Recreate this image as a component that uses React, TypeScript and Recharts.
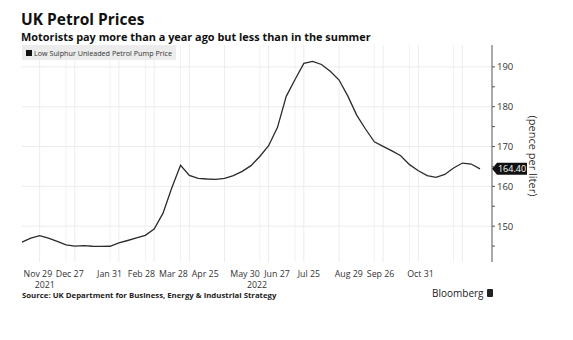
import { Line, LineChart, ReferenceLine, XAxis, YAxis } from "recharts";

const weeks = [
  "2021-11-15", "2021-11-22", "2021-11-29", "2021-12-06", "2021-12-13", "2021-12-20", "2021-12-27",
  "2022-01-03", "2022-01-10", "2022-01-17", "2022-01-24", "2022-01-31",
  "2022-02-07", "2022-02-14", "2022-02-21", "2022-02-28",
  "2022-03-07", "2022-03-14", "2022-03-21", "2022-03-28",
  "2022-04-04", "2022-04-11", "2022-04-18", "2022-04-25",
  "2022-05-02", "2022-05-09", "2022-05-16", "2022-05-23", "2022-05-30",
  "2022-06-06", "2022-06-13", "2022-06-20", "2022-06-27",
  "2022-07-04", "2022-07-11", "2022-07-18", "2022-07-25",
  "2022-08-01", "2022-08-08", "2022-08-15", "2022-08-22", "2022-08-29",
  "2022-09-05", "2022-09-12", "2022-09-19", "2022-09-26",
  "2022-10-03", "2022-10-10", "2022-10-17", "2022-10-24", "2022-10-31",
  "2022-11-07", "2022-11-14",
];

const petrolPrice = [
  146.0, 147.0, 147.6, 147.0, 146.2, 145.3, 145.0,
  145.1, 144.95, 144.9, 144.95, 145.8,
  146.4, 147.05, 147.7, 149.3,
  153.2, 159.6, 165.3, 162.75,
  162.0, 161.85, 161.75, 162.0,
  162.7, 163.75, 165.2, 167.5, 170.2,
  174.75, 182.6, 186.85, 190.9,
  191.4, 190.6, 188.9, 186.7,
  182.65, 177.9, 174.4, 171.2, 170.05,
  168.9, 167.7, 165.45, 163.9,
  162.7, 162.25, 163.0, 164.6, 165.85,
  165.6, 164.4,
];

const tickWeeks = [
  "2021-11-29", "2021-12-27", "2022-01-31", "2022-02-28", "2022-03-28", "2022-04-25",
  "2022-05-30", "2022-06-27", "2022-07-25", "2022-08-29", "2022-09-26", "2022-10-31",
];
const tickLabels = [
  "Nov 29", "Dec 27", "Jan 31", "Feb 28", "Mar 28", "Apr 25",
  "May 30", "Jun 27", "Jul 25", "Aug 29", "Sep 26", "Oct 31",
];
const yearLabels: Record<string, string> = { "Nov 29": "2021", "May 30": "2022" };
const minorGridWeeks = [
  "2021-11-15", "2021-12-20", "2022-01-24", "2022-02-21", "2022-03-21",
  "2022-05-23", "2022-06-20", "2022-08-22", "2022-09-19", "2022-10-24",
];
const yTicks = [145, 150, 155, 160, 165, 170, 175, 180, 185, 190];
const yGrid = [150, 160, 170, 180, 190];

const seriesName = "Low Sulphur Unleaded Petrol Pump Price";
const data = weeks.map((week, i) => ({ week, price: petrolPrice[i] }));
const lastPrice = petrolPrice[petrolPrice.length - 1];

const FONT = "'Open Sans', 'Liberation Sans', sans-serif";
const GRID = "#ececec";

function DateTick({ x, y, payload }: any) {
  const label = tickLabels[tickWeeks.indexOf(payload.value)];
  // labels sit slightly left of their gridlines in the original
  const lx = x * 0.905 + 2;
  const year = yearLabels[label];
  return (
    <g>
      <text x={lx} y={y + 12.5} textAnchor="middle" fontSize={8.8} fill="#333" fontFamily={FONT}>
        {label}
      </text>
      {year && (
        <text x={lx + (label === "Nov 29" ? 7 : 12)} y={y + 24} textAnchor="middle" fontSize={8.8} fill="#333" fontFamily={FONT}>
          {year}
        </text>
      )}
    </g>
  );
}

function PriceTick({ x, y, payload }: any) {
  const major = payload.value % 10 === 0;
  return (
    <g>
      <line x1={x} x2={x + 3} y1={y} y2={y} stroke="#555" strokeWidth={1} />
      {major && (
        <text x={x + 5} y={y + 3.5} fontSize={9.5} fill="#333" fontFamily={FONT}>
          {payload.value}
        </text>
      )}
    </g>
  );
}

function PriceTag({ viewBox }: any) {
  const ax = viewBox.x + viewBox.width;
  const cy = viewBox.y;
  return (
    <g>
      <polygon
        points={`${ax},${cy} ${ax + 5},${cy - 6} ${ax + 35},${cy - 6} ${ax + 35},${cy + 6} ${ax + 5},${cy + 6}`}
        fill="#111"
      />
      <text x={ax + 20} y={cy + 3.3} textAnchor="middle" fontSize={9} fill="#fff" fontFamily={FONT}>
        {lastPrice.toFixed(2)}
      </text>
    </g>
  );
}

function UnitLabel({ viewBox }: any) {
  const cx = viewBox.x + 40;
  const cy = 156;
  return (
    <text x={cx} y={cy} transform={`rotate(90 ${cx} ${cy})`} textAnchor="middle" dominantBaseline="middle" fontSize={11} fill="#333" fontFamily={FONT}>
      (pence per liter)
    </text>
  );
}

export default function App() {
  return (
    <div style={{ position: "absolute", left: 0, top: 0, width: 573, height: 340, background: "#fff", fontFamily: FONT }}>
      <div style={{ position: "absolute", left: 21, top: 10.5, fontSize: 15.5, fontWeight: 700, color: "#111", lineHeight: "16px" }}>
        UK Petrol Prices
      </div>
      <div style={{ position: "absolute", left: 21, top: 29.5, fontSize: 10.9, fontWeight: 700, color: "#111", lineHeight: "13px" }}>
        Motorists pay more than a year ago but less than in the summer
      </div>
      <LineChart width={573} height={340} data={data} margin={{ top: 45, right: 0, bottom: 48, left: 22 }}>
        {yGrid.map((v) => (
          <ReferenceLine key={v} y={v} stroke={GRID} />
        ))}
        {tickWeeks.map((w) => (
          <ReferenceLine key={w} x={w} stroke={GRID} />
        ))}
        {minorGridWeeks.map((w) => (
          <ReferenceLine key={"m" + w} x={w} stroke="#f2f2f2" />
        ))}
        <XAxis
          dataKey="week"
          ticks={tickWeeks}
          interval={0}
          height={30}
          axisLine={false}
          tickLine={false}
          tickSize={0}
          padding={{ left: 0, right: 12 }}
          tick={<DateTick />}
        />
        <YAxis
          orientation="right"
          domain={[141, 195.5]}
          ticks={yTicks}
          interval={0}
          width={81}
          tickLine={false}
          tickSize={0}
          tickMargin={0}
          axisLine={{ stroke: "#555" }}
          tick={<PriceTick />}
          label={<UnitLabel />}
          allowDataOverflow
        />
        <Line
          type="linear"
          dataKey="price"
          name={seriesName}
          stroke="#2b2b2b"
          strokeWidth={1.3}
          dot={false}
          isAnimationActive={false}
        />
        <ReferenceLine y={lastPrice} stroke="none" label={<PriceTag />} />
      </LineChart>
      <div style={{ position: "absolute", left: 22, top: 45, height: 15, display: "flex", alignItems: "center", background: "#ececec", fontSize: 7.2, color: "#333", whiteSpace: "nowrap", paddingRight: 4 }}>
        <span style={{ width: 6, height: 6, background: "#111", margin: "0 2px 0 4px", display: "inline-block" }} />
        {seriesName}
      </div>
      <div style={{ position: "absolute", left: 22, top: 289.5, fontSize: 7.8, fontWeight: 700, color: "#222", lineHeight: "10px" }}>
        Source: UK Department for Business, Energy &amp; Industrial Strategy
      </div>
      <div style={{ position: "absolute", left: 432, top: 286, fontSize: 10, color: "#222", display: "flex", alignItems: "center" }}>
        Bloomberg
        <span style={{ width: 6, height: 8, background: "#222", marginLeft: 3, display: "inline-block", borderRadius: 1 }} />
      </div>
    </div>
  );
}
